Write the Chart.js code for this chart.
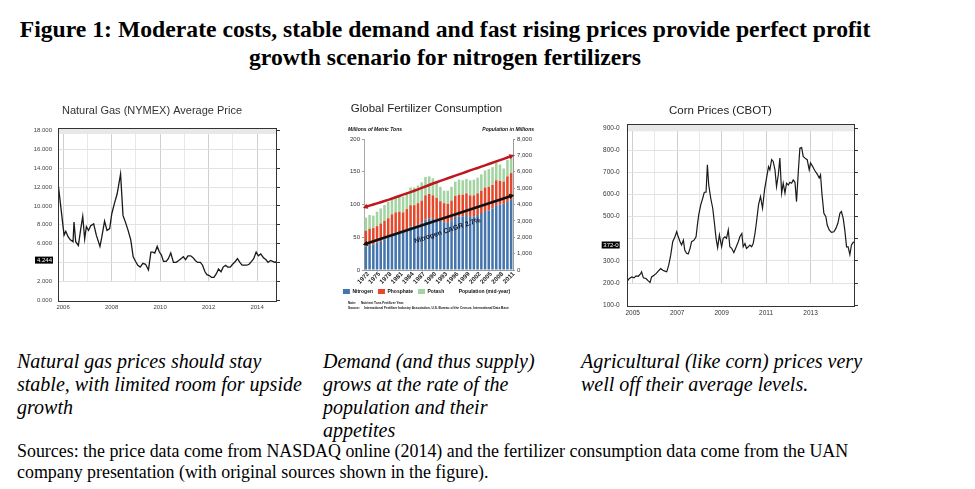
<!DOCTYPE html>
<html>
<head>
<meta charset="utf-8">
<script src="https://cdn.jsdelivr.net/npm/chart.js@4.4.0/dist/chart.umd.min.js"></script>
<style>
  body { margin: 0; background: #fff; width: 975px; height: 489px; overflow: hidden; position: relative;
         font-family: 'Liberation Serif', 'Times New Roman', serif; color: #000; }
  .fig-title { position: absolute; left: 0; top: 15px; width: 890px; text-align: center;
               font-weight: bold; font-size: 23.7px; line-height: 28px; }
  .cap { position: absolute; top: 350px; font-style: italic; font-size: 20px; line-height: 23px; }
  .src { position: absolute; left: 17px; top: 441px; font-size: 17.9px; line-height: 21px; width: 950px; }
  canvas { position: absolute; }
</style>
</head>
<body>
<div class="fig-title">Figure 1: Moderate costs, stable demand and fast rising prices provide perfect profit<br>growth scenario for nitrogen fertilizers</div>

<canvas id="gasChart" width="270" height="216" style="left:23px;top:98px"></canvas>
<canvas id="fertChart" width="232" height="218" style="left:319px;top:98px"></canvas>
<canvas id="cornChart" width="290" height="224" style="left:582px;top:98px"></canvas>

<div class="cap" style="left:17px">Natural gas prices should stay<br>stable, with limited room for upside<br>growth</div>
<div class="cap" style="left:323px">Demand (and thus supply)<br>grows at the rate of the<br>population and their<br>appetites</div>
<div class="cap" style="left:581px">Agricultural (like corn) prices very<br>well off their average levels.</div>
<div class="src">Sources: the price data come from NASDAQ online (2014) and the fertilizer consumption data come from the UAN<br>company presentation (with original sources shown in the figure).</div>

<script>
// ---- Natural gas (NYMEX), monthly-ish readings ----
const gasDates = [2005.79, 2006.04, 2006.11, 2006.21, 2006.30, 2006.41, 2006.45, 2006.52, 2006.63, 2006.73,
  2006.81, 2006.89, 2006.96, 2007.05, 2007.14, 2007.26, 2007.37, 2007.52, 2007.59, 2007.71,
  2007.81, 2007.92, 2008.01, 2008.12, 2008.23, 2008.37, 2008.47, 2008.58, 2008.68, 2008.79,
  2008.89, 2008.99, 2009.08, 2009.18, 2009.29, 2009.40, 2009.52, 2009.62, 2009.70, 2009.78,
  2009.88, 2009.97, 2010.05, 2010.14, 2010.25, 2010.34, 2010.44, 2010.55, 2010.66, 2010.77,
  2010.86, 2010.96, 2011.05, 2011.15, 2011.26, 2011.36, 2011.45, 2011.55, 2011.66, 2011.75,
  2011.85, 2011.93, 2012.03, 2012.12, 2012.22, 2012.32, 2012.41, 2012.51, 2012.60, 2012.70,
  2012.79, 2012.89, 2012.99, 2013.10, 2013.19, 2013.29, 2013.38, 2013.48, 2013.58, 2013.67,
  2013.77, 2013.86, 2013.96, 2014.05, 2014.15, 2014.26, 2014.36, 2014.45, 2014.55, 2014.64,
  2014.74, 2014.79];
const gasPrice = [12.5, 6.9, 7.3, 6.7, 6.4, 6.2, 8.3, 6.2, 5.8, 7.6,
  8.9, 6.5, 7.8, 7.4, 7.9, 8.1, 6.9, 5.7, 6.6, 8.4,
  7.4, 7.6, 9.2, 10.3, 11.3, 13.4, 9.0, 8.2, 7.4, 6.4,
  4.6, 4.1, 3.7, 3.5, 3.9, 3.8, 3.2, 5.1, 5.1, 5.0,
  5.7, 5.1, 4.8, 4.1, 4.1, 4.4, 5.0, 4.0, 4.0, 4.2,
  4.4, 4.6, 4.3, 4.7, 4.7, 4.5, 4.2, 4.0, 4.0, 3.7,
  3.0, 2.7, 2.6, 2.4, 2.4, 2.8, 3.3, 3.0, 3.5, 3.7,
  3.5, 3.5, 3.8, 4.1, 4.4, 4.0, 3.7, 3.7, 3.7, 3.8,
  4.1, 4.4, 5.1, 4.7, 4.9, 4.5, 4.3, 4.0, 4.2, 4.1,
  4.0, 4.1];
const gasLast = 4.244;
const gasYearTicks = [2006, 2007, 2008, 2009, 2010, 2011, 2012, 2013, 2014];
const gasYearLabels = [2006, 2008, 2010, 2012, 2014];
const gasValueTicks = [0, 2, 4, 6, 8, 10, 12, 14, 16, 18];

// ---- Global fertilizer consumption (million tonnes) + population ----
const fertYears = ['1972', '1973', '1974', '1975', '1976', '1977', '1978', '1979', '1980', '1981',
  '1982', '1983', '1984', '1985', '1986', '1987', '1988', '1989', '1990', '1991',
  '1992', '1993', '1994', '1995', '1996', '1997', '1998', '1999', '2000', '2001',
  '2002', '2003', '2004', '2005', '2006', '2007', '2008', '2009', '2010', '2011'];
const nitrogen = [36, 38, 39, 42, 44, 47, 50, 54, 57, 58,
  58, 62, 66, 67, 69, 72, 77, 79, 78, 77,
  75, 73, 72, 76, 81, 82, 82, 84, 81, 82,
  84, 87, 90, 91, 94, 99, 100, 101, 104, 107];
const phosphate = [24, 25, 25, 25, 27, 28, 29, 31, 31, 31,
  30, 31, 33, 32, 33, 34, 37, 37, 36, 33,
  30, 29, 29, 30, 32, 33, 33, 33, 33, 32,
  33, 34, 36, 36, 36, 38, 36, 34, 39, 41];
const potash = [20, 21, 19, 22, 23, 24, 25, 26, 25, 25,
  24, 25, 27, 27, 27, 28, 28, 27, 26, 24,
  22, 19, 20, 21, 22, 23, 22, 22, 23, 24,
  24, 25, 26, 27, 27, 28, 25, 20, 25, 26];
const population = [3860, 3930, 4000, 4070, 4140, 4210, 4280, 4360, 4440, 4520,
  4600, 4680, 4760, 4840, 4920, 5010, 5100, 5190, 5280, 5360,
  5440, 5520, 5600, 5680, 5760, 5840, 5920, 6000, 6080, 6160,
  6230, 6310, 6390, 6470, 6550, 6630, 6710, 6790, 6870, 6950];
// nitrogen trend arrow, drawn only from the first to the last year
const nitrogenTrend = [40, null, null, null, null, null, null, null, null, null,
  null, null, null, null, null, null, null, null, null, null,
  null, null, null, null, null, null, null, null, null, null,
  null, null, null, null, null, null, null, null, null, 113];

// ---- Corn prices (CBOT), cents/bushel ----
const cornDates = [2004.76, 2004.85, 2004.96, 2005.06, 2005.15, 2005.25, 2005.36, 2005.40, 2005.48, 2005.60,
  2005.70, 2005.78, 2005.85, 2005.96, 2006.05, 2006.15, 2006.26, 2006.35, 2006.45, 2006.53,
  2006.62, 2006.71, 2006.80, 2006.90, 2006.98, 2007.05, 2007.13, 2007.20, 2007.28, 2007.34,
  2007.43, 2007.50, 2007.58, 2007.65, 2007.76, 2007.85, 2007.91, 2007.97, 2008.06, 2008.15,
  2008.22, 2008.30, 2008.36, 2008.42, 2008.51, 2008.60, 2008.67, 2008.75, 2008.82, 2008.90,
  2009.00, 2009.07, 2009.15, 2009.22, 2009.30, 2009.37, 2009.45, 2009.55, 2009.64, 2009.75,
  2009.82, 2009.91, 2009.97, 2010.05, 2010.12, 2010.20, 2010.27, 2010.35, 2010.42, 2010.50,
  2010.57, 2010.66, 2010.75, 2010.84, 2010.93, 2011.02, 2011.11, 2011.17, 2011.25, 2011.32,
  2011.40, 2011.47, 2011.55, 2011.62, 2011.70, 2011.77, 2011.85, 2011.92, 2012.00, 2012.07,
  2012.15, 2012.22, 2012.30, 2012.37, 2012.45, 2012.52, 2012.60, 2012.67, 2012.75, 2012.85,
  2012.94, 2013.00, 2013.09, 2013.19, 2013.30, 2013.39, 2013.45, 2013.51, 2013.60, 2013.69,
  2013.75, 2013.84, 2013.94, 2014.05, 2014.14, 2014.23, 2014.32, 2014.39, 2014.47, 2014.54,
  2014.62, 2014.69, 2014.77, 2014.84, 2014.92, 2014.99];
const cornPrice = [209, 221, 228, 224, 233, 231, 243, 251, 224, 221,
  210, 203, 228, 236, 243, 254, 266, 258, 254, 251,
  281, 326, 387, 409, 432, 409, 387, 372, 394, 349,
  334, 332, 357, 387, 394, 409, 462, 508, 553, 583,
  610, 610, 734, 643, 583, 538, 477, 402, 360, 417,
  364, 402, 409, 402, 440, 364, 357, 338, 360, 387,
  409, 424, 364, 379, 357, 364, 372, 364, 379, 424,
  477, 553, 591, 538, 621, 674, 726, 711, 757, 749,
  711, 636, 689, 764, 606, 651, 606, 651, 643, 655,
  651, 666, 655, 568, 704, 809, 812, 772, 764, 757,
  711, 742, 727, 708, 692, 674, 689, 606, 515, 500,
  462, 440, 429, 432, 447, 470, 515, 523, 492, 440,
  364, 364, 329, 372, 384, 387];
const cornLast = 372;
const cornYearTicks = [2005, 2006, 2007, 2008, 2009, 2010, 2011, 2012, 2013, 2014];
const cornYearLabels = [2005, 2007, 2009, 2011, 2013];
const cornValueTicks = [100, 200, 300, 400, 500, 600, 700, 800, 900];

const SANS = "'Liberation Sans', Arial, sans-serif";

// frame, grey top band, blank strip at the bottom and the "last value" tag
const panelPlugin = {
  id: 'panel',
  beforeDatasetsDraw(chart, args, opts) {
    const { ctx, chartArea: a, scales: { y } } = chart;
    ctx.save();
    const yf = Math.round(y.getPixelForValue(opts.floor)) + 1;
    ctx.fillStyle = '#fff';
    ctx.fillRect(a.left, yf, a.width, a.bottom - yf);
    ctx.fillStyle = '#e8e8e8';
    ctx.fillRect(a.left, a.top, a.width, opts.band);
    ctx.restore();
  },
  afterDatasetsDraw(chart, args, opts) {
    const { ctx, chartArea: a, scales: { y } } = chart;
    ctx.save();
    ctx.strokeStyle = '#333';
    ctx.lineWidth = 1;
    ctx.strokeRect(Math.round(a.left) + 0.5, Math.round(a.top) + 0.5, Math.round(a.width) - 1, Math.round(a.height) - 1);
    const yv = y.getPixelForValue(opts.last);
    ctx.fillStyle = '#000';
    ctx.fillRect(a.left - opts.tagOffset - opts.tagWidth, yv - 3.5, opts.tagWidth, 7);
    ctx.fillStyle = '#fff';
    ctx.font = '6px ' + SANS;
    ctx.textAlign = 'right';
    ctx.textBaseline = 'middle';
    ctx.fillText(opts.text, a.left - opts.tagOffset - 1, yv + 0.5);
    ctx.restore();
  }
};

new Chart(document.getElementById('gasChart'), {
  type: 'line',
  data: {
    datasets: [{
      data: gasDates.map((d, i) => ({ x: d, y: gasPrice[i] })),
      borderColor: '#1a1a1a',
      borderWidth: 1.3,
      pointRadius: 0,
      tension: 0
    }]
  },
  options: {
    responsive: false,
    animation: false,
    layout: { padding: { left: 0, right: 12, top: 0, bottom: 0 } },
    plugins: {
      legend: { display: false },
      tooltip: { enabled: false },
      title: {
        display: true,
        text: 'Natural Gas (NYMEX) Average Price',
        color: '#333',
        font: { family: SANS, size: 11, weight: 'normal' },
        padding: { top: 6, bottom: 10.8 }
      },
      panel: { floor: 2, band: 6, last: gasLast, text: gasLast.toFixed(3), tagWidth: 18, tagOffset: 5 }
    },
    scales: {
      x: {
        type: 'linear', min: 2005.79, max: 2014.82,
        afterBuildTicks: s => { s.ticks = gasYearTicks.map(v => ({ value: v })); },
        afterFit: s => { s.height = 12; },
        ticks: {
          autoSkip: false, maxRotation: 0, padding: 2, color: '#444',
          font: { family: SANS, size: 6 },
          callback: v => gasYearLabels.includes(v) ? String(v) : ''
        },
        grid: { drawTicks: false, color: c => gasYearLabels.includes(c.tick && c.tick.value) ? '#cfcfcf' : '#e8e8e8' },
        border: { display: false }
      },
      y: {
        min: -0.21, max: 18.29,
        afterBuildTicks: s => { s.ticks = gasValueTicks.map(v => ({ value: v })); },
        afterFit: s => { s.width = 35; },
        ticks: {
          padding: 6, color: '#444', font: { family: SANS, size: 6 },
          callback: v => v === 4 ? '' : v.toFixed(3)
        },
        grid: { drawTicks: false, color: '#e2e2e2' },
        border: { display: false }
      },
      y2: {
        position: 'right', min: -0.21, max: 18.29,
        afterBuildTicks: s => { s.ticks = gasValueTicks.map(v => ({ value: v })); },
        afterFit: s => { s.width = 4; },
        ticks: { display: false },
        grid: { drawOnChartArea: false, drawTicks: true, tickLength: 3, color: '#333' },
        border: { display: false }
      }
    }
  },
  plugins: [panelPlugin]
});

// year labels, axis captions, trend label and the note / source lines of the fertilizer panel
const fertNotes = {
  id: 'fertNotes',
  afterDatasetsDraw(chart) {
    const { ctx, chartArea: a, scales: { x, y } } = chart;
    const n = fertYears.length - 1;
    const x1 = x.getPixelForValue(0), y1 = y.getPixelForValue(nitrogenTrend[0]);
    const x2 = x.getPixelForValue(n), y2 = y.getPixelForValue(nitrogenTrend[n]);
    ctx.save();
    ctx.translate((x1 + x2) / 2, (y1 + y2) / 2);
    ctx.rotate(Math.atan2(y2 - y1, x2 - x1));
    ctx.font = 'bold 7px ' + SANS;
    ctx.fillStyle = '#16182a';
    ctx.textAlign = 'center';
    ctx.textBaseline = 'middle';
    ctx.fillText('Nitrogen CAGR 2.7%', 5, 13);
    ctx.restore();

    // slanted year labels, every third year
    ctx.save();
    ctx.font = 'bold 6.3px ' + SANS;
    ctx.fillStyle = '#222';
    ctx.textAlign = 'right';
    ctx.textBaseline = 'middle';
    fertYears.forEach((yr, i) => {
      if (i % 3 !== 0) return;
      ctx.save();
      ctx.translate(x.getPixelForValue(i) + 2.5, a.bottom + 3);
      ctx.rotate(-Math.PI / 4);
      ctx.fillText(yr, 0, 0);
      ctx.restore();
    });
    ctx.restore();

    ctx.save();
    ctx.fillStyle = '#111';
    ctx.textBaseline = 'middle';
    ctx.font = 'italic bold 5px ' + SANS;
    ctx.textAlign = 'left';
    ctx.fillText('Millions of Metric Tons', a.left - 16, a.top - 9);
    ctx.textAlign = 'right';
    ctx.fillText('Population in Millions', a.right + 21, a.top - 9);
    ctx.textAlign = 'left';
    ctx.font = 'bold 3.2px ' + SANS;
    ctx.fillText('Note:', a.left - 16, a.bottom + 33);
    ctx.fillText('Nutrient Tons Fertilizer Year.', a.left - 3, a.bottom + 33);
    ctx.fillText('Source:', a.left - 16, a.bottom + 38.5);
    ctx.fillText('International Fertilizer Industry Association, U.S. Bureau of the Census, International Data Base', a.left, a.bottom + 38.5);
    ctx.restore();
  }
};

const lastIdx = fertYears.length - 1;
const arrowRadius = c => (c.dataIndex === 0 || c.dataIndex === lastIdx) ? 3.2 : 0;

new Chart(document.getElementById('fertChart'), {
  data: {
    labels: fertYears,
    datasets: [
      { type: 'bar', label: 'Nitrogen', data: nitrogen, backgroundColor: '#4475ad', stack: 'fert', barPercentage: 0.68, categoryPercentage: 1, order: 3 },
      { type: 'bar', label: 'Phosphate', data: phosphate, backgroundColor: '#e4472a', stack: 'fert', barPercentage: 0.68, categoryPercentage: 1, order: 3 },
      { type: 'bar', label: 'Potash', data: potash, backgroundColor: '#a3d3a1', stack: 'fert', barPercentage: 0.68, categoryPercentage: 1, order: 3 },
      {
        type: 'line', label: 'Population (mid-year)', data: population, yAxisID: 'y2', stack: 'pop',
        borderColor: '#c0171f', borderWidth: 2.5, tension: 0, order: 1,
        pointStyle: 'triangle', pointRadius: arrowRadius, pointBackgroundColor: '#c0171f', pointBorderWidth: 0,
        pointRotation: c => c.dataIndex === 0 ? 250 : 70
      },
      {
        type: 'line', label: 'Nitrogen CAGR', data: nitrogenTrend, stack: 'trend', spanGaps: true,
        borderColor: '#111', borderWidth: 2.5, tension: 0, order: 0,
        pointStyle: 'triangle', pointRadius: arrowRadius, pointBackgroundColor: '#111', pointBorderWidth: 0,
        pointRotation: c => c.dataIndex === 0 ? 254 : 74
      }
    ]
  },
  options: {
    responsive: false,
    animation: false,
    layout: { padding: { left: 0, right: 17, top: 0, bottom: 12 } },
    plugins: {
      tooltip: { enabled: false },
      title: {
        display: true,
        text: 'Global Fertilizer Consumption',
        color: '#222',
        font: { family: SANS, size: 11.5, weight: 'normal' },
        padding: { top: 4.4, bottom: 22.8 }
      },
      legend: {
        position: 'bottom',
        labels: {
          usePointStyle: true, pointStyleWidth: 7, boxHeight: 5, padding: 5,
          color: '#111', font: { family: SANS, size: 5, weight: 'bold' },
          generateLabels: chart => Chart.defaults.plugins.legend.labels.generateLabels(chart)
            .filter(item => item.datasetIndex !== 4)
            .sort((p, q) => p.datasetIndex - q.datasetIndex)
            .map(item => Object.assign(item, { pointStyle: item.datasetIndex === 3 ? 'line' : 'rect', rotation: 0 }))
        }
      }
    },
    scales: {
      x: {
        stacked: true,
        afterFit: s => { s.height = 14; },
        ticks: { display: false },
        grid: { display: false },
        border: { color: '#999' }
      },
      y: {
        stacked: true, min: 0, max: 200,
        afterFit: s => { s.width = 45; },
        ticks: { stepSize: 50, padding: 2, color: '#333', font: { family: SANS, size: 6 } },
        grid: { drawOnChartArea: false, drawTicks: true, tickLength: 2, color: '#999' },
        border: { color: '#aaa', dash: [2, 2] }
      },
      y2: {
        position: 'right', min: 0, max: 8000,
        afterFit: s => { s.width = 21; },
        ticks: {
          stepSize: 1000, padding: 2, color: '#333', font: { family: SANS, size: 6 },
          callback: v => v.toLocaleString('en-US')
        },
        grid: { drawOnChartArea: false, drawTicks: true, tickLength: 2, color: '#999' },
        border: { color: '#999' }
      }
    }
  },
  plugins: [fertNotes]
});

new Chart(document.getElementById('cornChart'), {
  type: 'line',
  data: {
    datasets: [{
      data: cornDates.map((d, i) => ({ x: d, y: cornPrice[i] })),
      borderColor: '#1a1a1a',
      borderWidth: 1.2,
      pointRadius: 0,
      tension: 0
    }]
  },
  options: {
    responsive: false,
    animation: false,
    layout: { padding: { left: 0, right: 13, top: 0, bottom: 0 } },
    plugins: {
      legend: { display: false },
      tooltip: { enabled: false },
      title: {
        display: true,
        text: 'Corn Prices (CBOT)',
        color: '#222',
        font: { family: SANS, size: 11.5, weight: 'normal' },
        padding: { top: 6, bottom: 6.5 }
      },
      panel: { floor: 200, band: 7, last: cornLast, text: cornLast + '-0', tagWidth: 18, tagOffset: 7 }
    },
    scales: {
      x: {
        type: 'linear', min: 2004.73, max: 2015.0,
        afterBuildTicks: s => { s.ticks = cornYearTicks.map(v => ({ value: v })); },
        afterFit: s => { s.height = 15; },
        ticks: {
          autoSkip: false, maxRotation: 0, padding: 2, color: '#333',
          font: { family: SANS, size: 6.5 },
          callback: v => cornYearLabels.includes(v) ? String(v) : ''
        },
        grid: { drawTicks: false, color: c => cornYearLabels.includes(c.tick && c.tick.value) ? '#cfcfcf' : '#e8e8e8' },
        border: { display: false }
      },
      y: {
        min: 92.3, max: 916.7,
        afterBuildTicks: s => { s.ticks = cornValueTicks.map(v => ({ value: v })); },
        afterFit: s => { s.width = 44.7; },
        ticks: {
          padding: 7, color: '#333', font: { family: SANS, size: 6.5 },
          callback: v => v === 400 ? '' : v + '-0'
        },
        grid: { drawTicks: false, color: '#e2e2e2' },
        border: { display: false }
      },
      y2: {
        position: 'right', min: 92.3, max: 916.7,
        afterBuildTicks: s => { s.ticks = cornValueTicks.map(v => ({ value: v })); },
        afterFit: s => { s.width = 4; },
        ticks: { display: false },
        grid: { drawOnChartArea: false, drawTicks: true, tickLength: 3, color: '#333' },
        border: { display: false }
      }
    }
  },
  plugins: [panelPlugin]
});
</script>
</body>
</html>
